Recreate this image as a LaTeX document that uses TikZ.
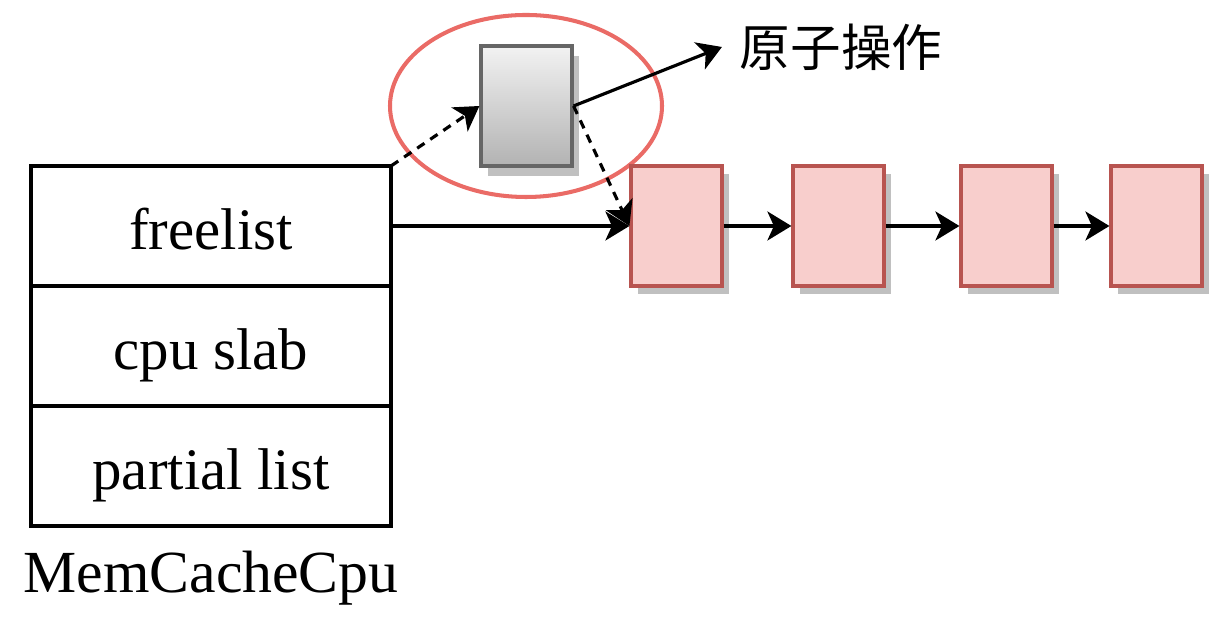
\documentclass[tikz,border=0pt]{standalone}
\usepackage{fontspec}
\setmainfont{Liberation Serif}
\newfontfamily\cjkfont{Noto Sans CJK SC}
\usepackage{tikz}
\usetikzlibrary{positioning,arrows.meta,shadows}

\definecolor{slabfill}{HTML}{F8CECC}
\definecolor{slabline}{HTML}{B85450}
\definecolor{ringred}{HTML}{EA6B66}
\definecolor{shadowgray}{HTML}{C0C0C0}

\begin{document}
\begin{tikzpicture}[
field/.style={draw,line width=1.9pt,minimum width=7.2cm,minimum height=2.4cm,
  inner sep=0,outer sep=0,text height=1.2cm,text depth=0.24cm,
  font=\fontsize{33.5}{40}\selectfont},
slab/.style={draw=slabline,fill=slabfill,line width=1.8pt,minimum width=1.82cm,
  minimum height=2.4cm,inner sep=0,
  drop shadow={shadow xshift=0.14cm,shadow yshift=-0.16cm,fill=shadowgray,opacity=1}},
link/.style={line width=1.8pt,-{Stealth[length=0.48cm,width=0.58cm,inset=0.13cm]}}
]
\useasboundingbox (0,0) rectangle (24.18,12.36);

% The MemCacheCpu fields
\node[field] (freelist) at (4.22,7.84) {freelist};
\node[field,below=0 of freelist] (cpuslab) {cpu slab};
\node[field,below=0 of cpuslab] (partial) {partial list};
\node[font=\fontsize{34}{40}\selectfont] (name) at (4.22,0.8) {MemCacheCpu};

% The object swapped atomically
\draw[ringred,line width=2.3pt] (10.52,10.24) ellipse (2.72 and 1.82);
\node[draw=black!60,line width=1.8pt,top color=black!5,bottom color=black!30,
  minimum width=1.82cm,minimum height=2.4cm,inner sep=0,
  drop shadow={shadow xshift=0.14cm,shadow yshift=-0.2cm,fill=shadowgray,opacity=1}]
  (cur) at (10.53,10.24) {};
\node[font=\cjkfont\fontsize{28.8}{34}\selectfont,inner sep=0.35cm] (atomic) at (16.82,11.42) {原子操作};

% The free objects
\node[slab] (s1) at (13.53,7.84) {};
\node[slab] (s2) at (16.77,7.84) {};
\node[slab] (s3) at (20.13,7.84) {};
\node[slab] (s4) at (23.13,7.84) {};

% The links
\draw[link] (freelist.east) -- (s1.west);
\draw[link] (s1) -- (s2);
\draw[link] (s2) -- (s3);
\draw[link] (s3) -- (s4);
\draw[link,dash pattern=on 5pt off 4pt] (freelist.north east) -- (cur.west);
\draw[link,dash pattern=on 5pt off 4pt] (cur.east) -- (s1.west);
\draw[link] (cur.east) -- (atomic.west);
\end{tikzpicture}
\end{document}
